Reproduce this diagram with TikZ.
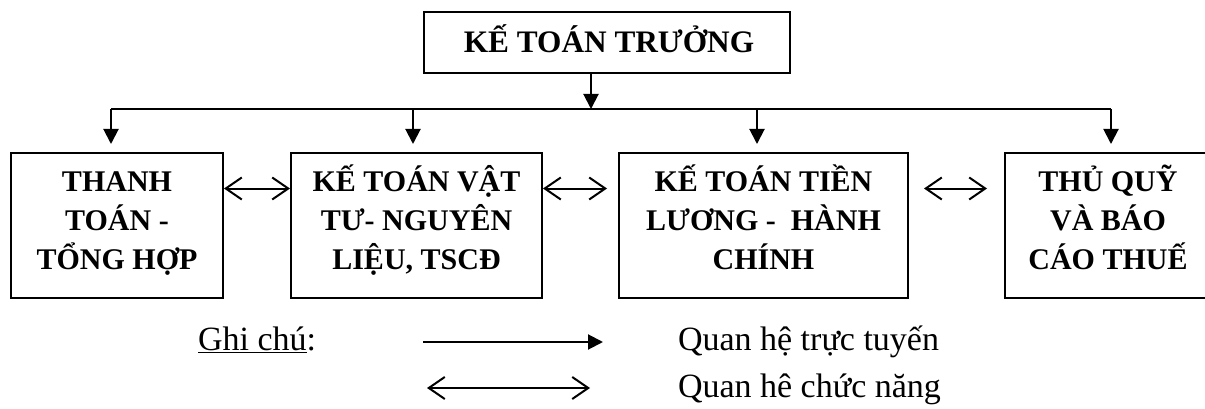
\documentclass[tikz,border=0pt]{standalone}
\usepackage{fontspec}
\setmainfont{Liberation Serif}
\usetikzlibrary{arrows.meta}
\begin{document}
\begin{tikzpicture}[x=1pt,y=-1pt,
  line width=2pt,
  box/.style={draw, line width=2pt, inner sep=0pt, minimum height=145pt},
  boxtext/.style={font=\bfseries\fontsize{30}{39}\selectfont, align=center, anchor=base, inner sep=0pt},
  tree/.style={-{Triangle[length=15pt,width=15pt]}},
  rel/.style={{Straight Barb[length=16pt,width=22pt,line width=2pt]}-{Straight Barb[length=16pt,width=22pt,line width=2pt]}},
  note/.style={font=\fontsize{34}{40}\selectfont, anchor=base west, inner sep=0pt}]

\fill[white] (0,0) rectangle (1205,409);
\useasboundingbox (0,0) rectangle (1205,409);

% chief accountant
\node[draw, line width=2pt, minimum width=366pt, minimum height=61pt, inner sep=0pt]
  (ktt) at (607,42.5) {};
\node[font=\bfseries\fontsize{31.3}{36}\selectfont, anchor=base, inner sep=0pt]
  (kttlabel) at (609,53) {KẾ TOÁN TRƯỞNG};

% departments (the last one runs past the right edge of the page)
\node[box, minimum width=212pt] (b1) at (117,225.5) {};
\node[box, minimum width=251pt] (b2) at (416.5,225.5) {};
\node[box, minimum width=289pt] (b3) at (763.5,225.5) {};
\node[box, minimum width=216pt] (b4) at (1113,225.5) {};

% department names (anchored on the baseline of their last line)
\node[boxtext] (t1) at (117,269) {THANH\\TOÁN -\\TỔNG HỢP};
\node[boxtext] (t2) at (416.5,269) {KẾ TOÁN VẬT\\TƯ- NGUYÊN\\LIỆU, TSCĐ};
\node[boxtext] (t3) at (763.5,269) {KẾ TOÁN TIỀN\\LƯƠNG -\ \ HÀNH\\CHÍNH};
\node[boxtext] (t4) at (1108,269) {THỦ QUỸ\\VÀ BÁO\\CÁO THUẾ};

% distribution bus
\coordinate (bus) at (591,109);
\coordinate (busL) at (111,109);
\coordinate (busR) at (1111,109);
\coordinate (d2) at (413,109);
\coordinate (d3) at (757,109);

\draw[tree] (ktt.south -| bus) -- (bus);
\draw (busL) -- (busR);
\draw[tree] (busL) -- ([yshift=8pt]b1.north -| busL);
\draw[tree] (d2) -- ([yshift=8pt]b2.north -| d2);
\draw[tree] (d3) -- ([yshift=8pt]b3.north -| d3);
\draw[tree] (busR) -- ([yshift=8pt]b4.north -| busR);

% functional links
\draw[rel] ([yshift=37pt]b1.east) -- ([yshift=37pt]b2.west);
\draw[rel] ([yshift=37pt]b2.east) -- ([yshift=37pt,xshift=-11pt]b3.west);
\draw[rel] ([yshift=37pt,xshift=15pt]b3.east) -- ([yshift=37pt,xshift=-17pt]b4.west);

% legend
\node[note] (gc) at (197,350) {\underline{Ghi chú}:};
\coordinate (l1a) at (423,342);
\coordinate (l1b) at (603,342);
\coordinate (l2a) at (427,388);
\coordinate (l2b) at (590,388);
\draw[tree] (l1a) -- (l1b);
\draw[rel] (l2a) -- (l2b);
\node[note] (qh1) at (677,350) {Quan hệ trực tuyến};
\node[note] (qh2) at (677,397) {Quan hê chức năng};
\end{tikzpicture}
\end{document}
